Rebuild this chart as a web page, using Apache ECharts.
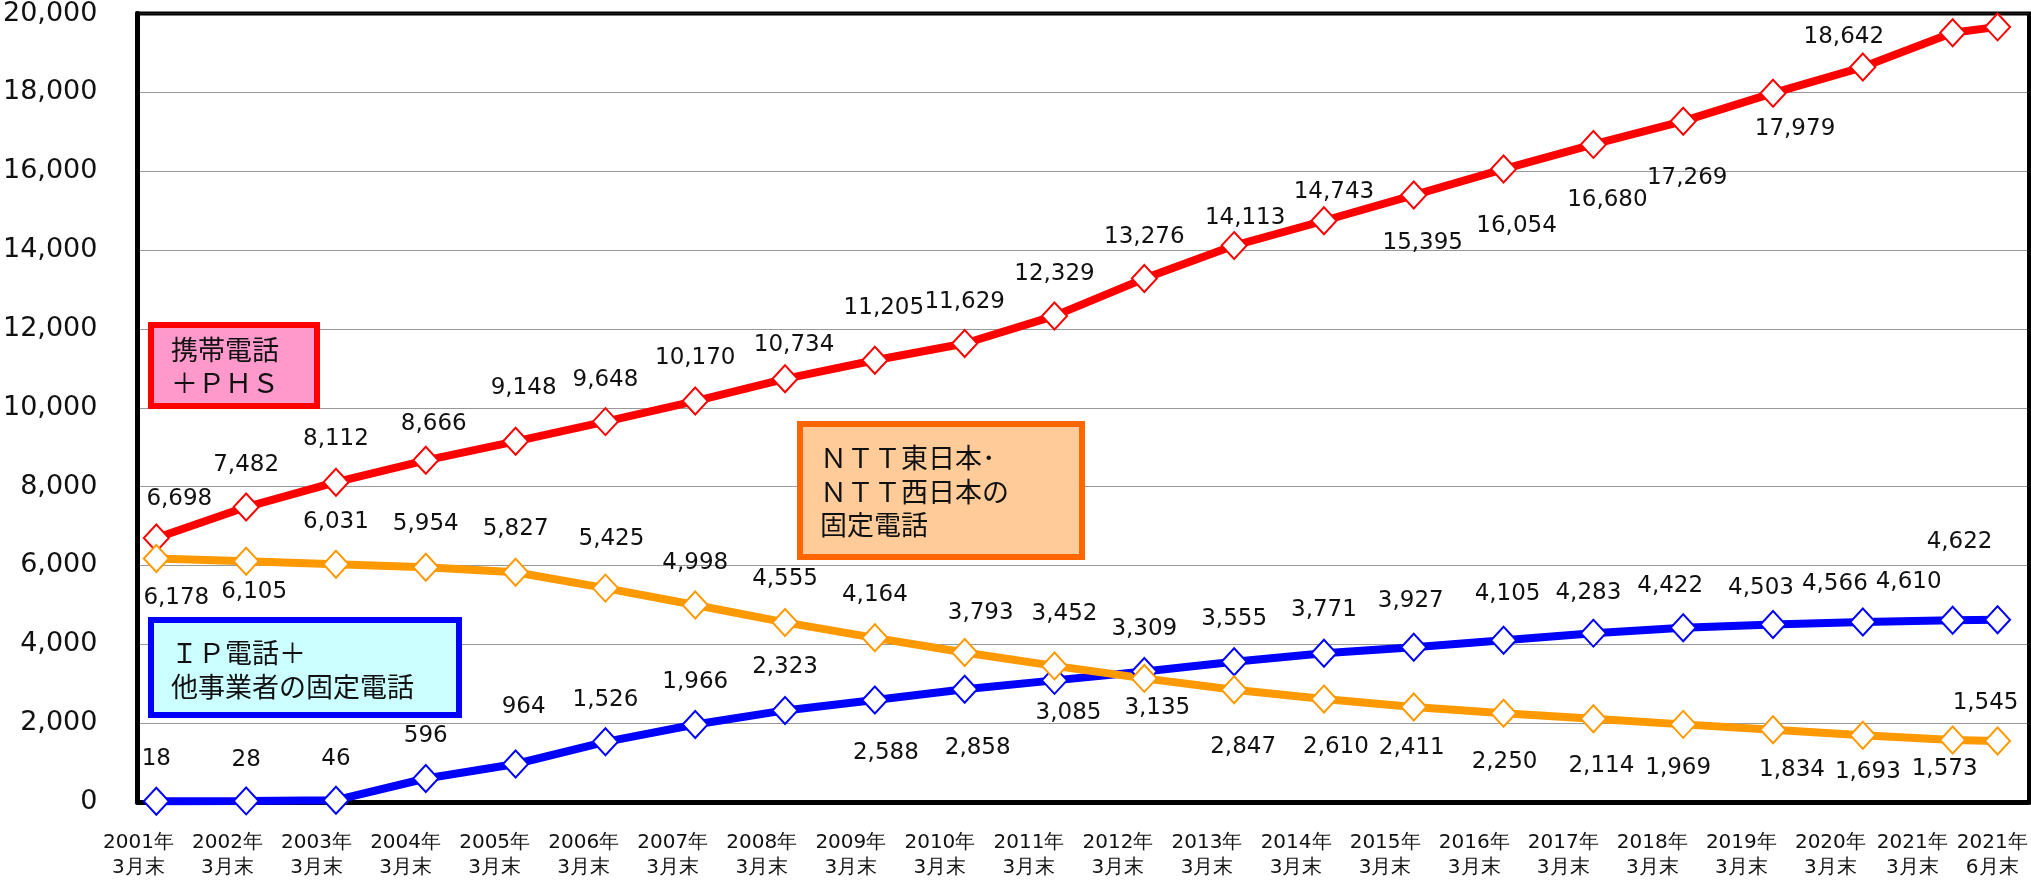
<!DOCTYPE html>
<html>
<head>
<meta charset="utf-8">
<script src="https://cdn.jsdelivr.net/npm/echarts@6/dist/echarts.min.js"></script>
<style>
  html, body { margin: 0; padding: 0; background: #fff; }
  #main { width: 2031px; height: 882px; }
</style>
</head>
<body>
<div id="main"></div>
<script>
// 時点（横軸）
var periods = ['2001年\n3月末', '2002年\n3月末', '2003年\n3月末', '2004年\n3月末', '2005年\n3月末',
  '2006年\n3月末', '2007年\n3月末', '2008年\n3月末', '2009年\n3月末', '2010年\n3月末',
  '2011年\n3月末', '2012年\n3月末', '2013年\n3月末', '2014年\n3月末', '2015年\n3月末',
  '2016年\n3月末', '2017年\n3月末', '2018年\n3月末', '2019年\n3月末', '2020年\n3月末',
  '2021年\n3月末', '2021年\n6月末'];

// 携帯電話＋ＰＨＳ（最後の2点はラベルなし・図から推定）
var mobile = [6698, 7482, 8112, 8666, 9148, 9648, 10170, 10734, 11205, 11629, 12329,
  13276, 14113, 14743, 15395, 16054, 16680, 17269, 17979, 18642, 19510, 19660];
// ＮＴＴ東日本・西日本の固定電話
var ntt = [6178, 6105, 6031, 5954, 5827, 5425, 4998, 4555, 4164, 3793, 3452,
  3135, 2847, 2610, 2411, 2250, 2114, 1969, 1834, 1693, 1573, 1545];
// ＩＰ電話＋他事業者の固定電話
var ipOther = [18, 28, 46, 596, 964, 1526, 1966, 2323, 2588, 2858, 3085,
  3309, 3555, 3771, 3927, 4105, 4283, 4422, 4503, 4566, 4610, 4622];

var yMin = 0, yMax = 20000, yStep = 2000;

// ラベルの位置ずらし（px）
var mobileOff = [[23,-39],[0,-42],[0,-43],[8,-36],[8,-53],[0,-42],[0,-43],[9,-34],[9,-52],[0,-41],[0,-42],
  [0,-42],[11,-28],[10,-29],[9,48],[13,57],[14,56],[4,57],[22,36],[-19,-30],null,null];
var nttOff = [[20,40],[8,31],[0,-42],[0,-43],[0,-43],[6,-49],[0,-42],[0,-43],[0,-43],[16,-39],[10,-52],
  [13,30],[9,57],[12,48],[-2,41],[1,49],[8,47],[-5,44],[19,40],[5,37],[-8,29],[-12,-38]];
var ipOff = [[0,-42],[0,-41],[0,-41],[0,-42],[8,-57],[0,-42],[0,-42],[0,-43],[11,53],[13,59],[14,33],
  [0,-43],[0,-43],[0,-43],[-3,-46],[4,-46],[-5,-40],[-13,-42],[-12,-36],[-28,-38],[-44,-38],[-38,-78]];

// 6月末は半区間だけ右
function xAt(i) { return i < 21 ? i : 20.5; }
// 軸ラベルの置き場所（元の図では少し左寄り）
var tickAt = periods.map(function (p, i) {
  if (i < 20) return (i * 89.5 - 18) / 90.27;
  return i == 20 ? 19.55 : 20.44;
});

function makeData(vals, offs) {
  return vals.map(function (v, i) {
    var o = offs[i];
    return {
      value: [xAt(i), v],
      label: o ? { show: true, offset: o } : { show: false }
    };
  });
}

function makeSeries(name, color, vals, offs) {
  return {
    name: name,
    type: 'line',
    data: makeData(vals, offs),
    showSymbol: true,
    symbol: 'diamond',
    symbolSize: [25, 27],
    lineStyle: { color: color, width: 8 },
    itemStyle: { color: '#fff', borderColor: color, borderWidth: 2 },
    label: {
      show: true,
      position: 'inside',
      color: '#111',
      fontFamily: 'DejaVu Sans',
      fontSize: 23,
      formatter: function (p) { return p.value[1].toLocaleString('en-US'); }
    },
    emphasis: { disabled: true },
    animation: false
  };
}

var font = '27px "Noto Sans CJK JP"';

function box(x, y, w, h, stroke, fill, text, tx, ty, lh) {
  return [{
    type: 'rect',
    shape: { x: x, y: y, width: w, height: h },
    style: { fill: fill, stroke: stroke, lineWidth: 6 },
    z: 10
  }, {
    type: 'text',
    style: { text: text, x: tx, y: ty, font: font, fill: '#111', lineHeight: lh,
      align: 'left', verticalAlign: 'middle', textAlign: 'left', textVerticalAlign: 'middle' },
    z: 11
  }];
}

var myChart = echarts.init(document.getElementById('main'));
var option = {
  backgroundColor: '#fff',
  grid: {
    left: 128, right: 2, top: 8, bottom: 80,
    show: true, borderColor: '#000', borderWidth: 4
  },
  xAxis: {
    type: 'value',
    min: -0.21,
    max: 20.85,
    axisLine: { show: true, onZero: false, lineStyle: { color: '#000', width: 5 } },
    axisTick: { show: false },
    splitLine: { show: false },
    axisLabel: {
      customValues: tickAt,
      color: '#111',
      fontFamily: 'DejaVu Sans',
      fontSize: 20,
      lineHeight: 25,
      margin: 28,
      formatter: function (v) {
        var best = 0;
        for (var i = 1; i < tickAt.length; i++) {
          if (Math.abs(tickAt[i] - v) < Math.abs(tickAt[best] - v)) best = i;
        }
        return periods[best];
      }
    }
  },
  yAxis: {
    type: 'value',
    min: yMin,
    max: yMax,
    interval: yStep,
    axisLine: { show: true, onZero: false, lineStyle: { color: '#000', width: 5 } },
    axisTick: { show: false },
    splitLine: { show: true, lineStyle: { color: '#333', width: 1, type: 'dotted' } },
    axisLabel: {
      color: '#111',
      fontFamily: 'DejaVu Sans',
      fontSize: 27,
      margin: 40,
      formatter: function (v) { return v.toLocaleString('en-US'); }
    }
  },
  series: [
    makeSeries('携帯電話＋ＰＨＳ', '#ff0000', mobile, mobileOff),
    makeSeries('ＩＰ電話＋他事業者の固定電話', '#0000ff', ipOther, ipOff),
    makeSeries('ＮＴＴ東日本・ＮＴＴ西日本の固定電話', '#ff9900', ntt, nttOff)
  ],
  graphic: [].concat(
    box(151, 325, 166, 81, '#ff0000', '#ff99cc', '携帯電話\n＋ＰＨＳ', 171, 366.5, 33),
    box(151, 620, 308, 95, '#0000ff', '#ccffff', 'ＩＰ電話＋\n他事業者の固定電話', 171, 670, 34),
    box(800, 424, 282, 133, '#ff6600', '#ffcc99', 'ＮＴＴ東日本･\nＮＴＴ西日本の\n固定電話', 820, 491.5, 33.5)
  ),
  animation: false
};
myChart.setOption(option);
</script>
</body>
</html>
